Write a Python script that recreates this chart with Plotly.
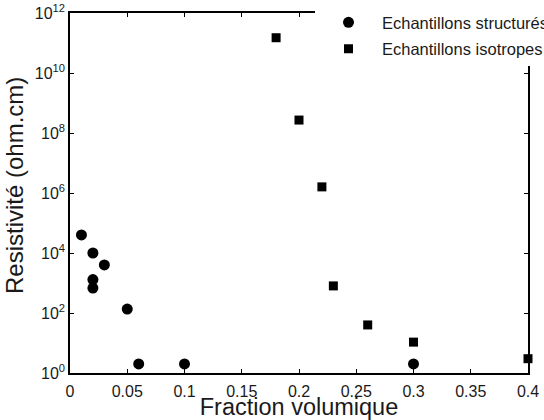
import plotly.graph_objects as go

# Data
struct_x = [0.01, 0.02, 0.03, 0.02, 0.02, 0.05, 0.06, 0.10, 0.30]
struct_y = [4.0e4, 1.0e4, 4.0e3, 1.3e3, 6.8e2, 1.35e2, 2.0, 2.0, 2.0]
iso_x = [0.18, 0.20, 0.22, 0.23, 0.26, 0.30, 0.40]
iso_y = [1.5e11, 2.7e8, 1.6e6, 8.0e2, 4.0e1, 1.07e1, 3.0]

xtick_vals = [0, 0.05, 0.1, 0.15, 0.2, 0.25, 0.3, 0.35, 0.4]
xtick_text = ["0", "0.05", "0.1", "0.15", "0.2", "0.25", "0.3", "0.35", "0.4"]
ytick_vals = [1e0, 1e2, 1e4, 1e6, 1e8, 1e10, 1e12]
ytick_text = ["10<sup>0</sup>", "10<sup>2</sup>", "10<sup>4</sup>", "10<sup>6</sup>",
              "10<sup>8</sup>", "10<sup>10</sup>", "10<sup>12</sup>"]

FONT = "Liberation Sans, Arial, Helvetica, sans-serif"
TXT = "#1a1a1a"

fig = go.Figure()
fig.add_trace(go.Scatter(x=struct_x, y=struct_y, mode="markers",
                         name="Echantillons structurés", legendgroup="s",
                         marker=dict(symbol="circle", size=11, color="black"),
                         cliponaxis=False))
fig.add_trace(go.Scatter(x=iso_x, y=iso_y, mode="markers",
                         name="Echantillons isotropes", legendgroup="i",
                         marker=dict(symbol="square", size=9, color="black"),
                         cliponaxis=False))

axis_common = dict(showline=True, linecolor="black", linewidth=1.5, mirror="ticks",
                   ticks="inside", ticklen=4, tickcolor="black", tickwidth=1,
                   showgrid=False, zeroline=False,
                   tickfont=dict(family=FONT, size=16, color=TXT))

fig.update_xaxes(range=[0, 0.4], tickvals=xtick_vals, ticktext=xtick_text,
                 ticklabelstandoff=3,
                 title=dict(text="Fraction volumique", font=dict(family=FONT, size=23.5, color=TXT),
                            standoff=0),
                 **axis_common)
fig.update_yaxes(type="log", range=[0, 12], tickvals=ytick_vals, ticktext=ytick_text,
                 **axis_common)

fig.add_annotation(text="Resistivité (ohm.cm)", textangle=-90,
                   xref="paper", yref="paper", x=-70/458 + 15/458, y=(373-186)/360,
                   xanchor="center", yanchor="middle", showarrow=False,
                   font=dict(family=FONT, size=24, color=TXT))

fig.update_layout(
    width=544, height=420,
    margin=dict(l=70, r=16, t=13, b=47, autoexpand=False),
    paper_bgcolor="white", plot_bgcolor="white",
    font=dict(family=FONT, color=TXT),
    showlegend=True,
    legend=dict(x=(315-70)/458, y=1.022, xanchor="left", yanchor="top",
                bgcolor="white", borderwidth=0, itemwidth=57,
                traceorder="grouped", tracegroupgap=2,
                font=dict(family=FONT, size=16.5, color=TXT)),
)

fig.write_html("out.html")
